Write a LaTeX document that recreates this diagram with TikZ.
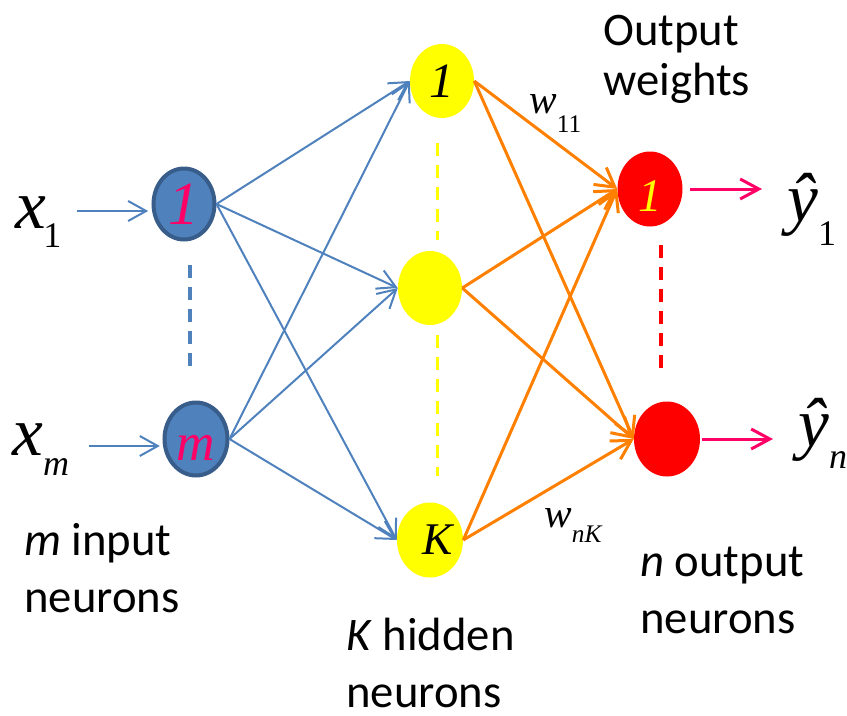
\documentclass[tikz,border=0pt]{standalone}
\usepackage{fontspec}
\setmainfont{Carlito}
\newfontfamily\tnr{Liberation Serif}
\usetikzlibrary{shapes.geometric,arrows.meta}

\definecolor{inblue}{HTML}{4F81BD}
\definecolor{inborder}{HTML}{385D8A}
\definecolor{wireorange}{HTML}{FF8000}
\definecolor{outpink}{HTML}{FF0066}
\definecolor{hidyellow}{HTML}{FFFF00}
\definecolor{outred}{HTML}{FF0000}

\begin{document}
\begin{tikzpicture}[x=0.75pt,y=-0.75pt,
  neuron/.style={ellipse, inner sep=0pt, minimum width=48pt, minimum height=55.5pt},
  inneuron/.style={neuron, fill=inblue, draw=inborder, line width=3pt,
    minimum width=45.75pt, minimum height=53.25pt, text=outpink},
  hidneuron/.style={neuron, fill=hidyellow},
  outneuron/.style={neuron, fill=outred},
  serifit/.style={font=\tnr\itshape\fontsize{#1}{#1}\selectfont},
  caption/.style={anchor=base west, inner sep=0pt, align=left,
    font=\fontsize{35}{#1}\selectfont},
  mathlabel/.style={anchor=base west, inner sep=0pt},
  bluewire/.style={draw=inblue, line width=1.5pt,
    -{Straight Barb[length=13.5pt,width=15pt]}},
  orangewire/.style={draw=wireorange, line width=2.25pt,
    -{Straight Barb[length=14pt,width=16pt]}},
  pinkwire/.style={draw=outpink, line width=2.25pt,
    -{Straight Barb[length=14pt,width=15pt]}},
  dots/.style={line width=#1, dash pattern=on 9.75pt off 6.75pt},
]
\useasboundingbox (0,0) rectangle (847,715);

% input layer
\node[inneuron, serifit=46] (in1) at (184,204) {1};
\node[inneuron, serifit=40, text height=31.5pt, text depth=0pt,
      minimum width=47.25pt, minimum height=54.75pt] (inm) at (196,439) {m};

% hidden layer
\node[hidneuron, serifit=37] (h1) at (442,81) {1};
\node[hidneuron] (h2) at (430,288) {};
\node[hidneuron, serifit=34, minimum width=49.5pt, minimum height=56.25pt] (hK) at (430,540) {\hspace*{12pt}K};

% output layer
\node[outneuron, serifit=35, text=hidyellow, text height=33pt, text depth=0pt,
      minimum width=48.75pt, minimum height=56.25pt] (o1) at (650,189) {1};
\node[outneuron, minimum width=49.5pt, minimum height=56.25pt] (on) at (667,439) {};

% ellipsis marks between neurons
\draw[inblue, dots=3pt] (190,265) -- (190,372);
\draw[hidyellow, dots=2.25pt] (437,143) -- (437,240);
\draw[hidyellow, dots=2.25pt] (437,335) -- (437,476);
\draw[outred, dots=3pt] (661,245) -- (661,373);

% input -> hidden
\foreach \s in {in1,inm}
  \foreach \t in {h1,h2,hK}
    \draw[bluewire] (\s.east) -- (\t.west);

% hidden -> output
\foreach \s in {h1,h2,hK}
  \foreach \t in {o1,on}
    \draw[orangewire] (\s.east) -- (\t.west);

% inputs
\node[mathlabel, serifit=52] (x1) at (15,228)
  {x\kern-2pt\raisebox{-14.25pt}{\fontsize{27}{27}\selectfont\upshape 1}};
\node[mathlabel, serifit=52] (xm) at (12,455)
  {x\raisebox{-15pt}{\fontsize{27}{27}\selectfont m}};
\coordinate (x1tail) at (77,211);
\coordinate (xmtail) at (89,446);
\draw[bluewire, shorten >=2.5pt] (x1tail) -- (x1tail -| in1.west);
\draw[bluewire, shorten >=2pt] (xmtail) -- (xmtail -| inm.west);

% outputs
\coordinate (y1head) at (762,189);
\coordinate (ynhead) at (773,439);
\draw[pinkwire, shorten <=5.5pt] (o1.east) -- (y1head);
\draw[pinkwire, shorten <=1.5pt] (on.east) -- (ynhead);
\node[mathlabel, serifit=52] (y1) at (787,221)
  {ŷ\raisebox{-18pt}{\fontsize{27}{27}\selectfont\upshape 1}};
\node[mathlabel, serifit=52] (yn) at (798,446)
  {ŷ\raisebox{-16.5pt}{\fontsize{27}{27}\selectfont n}};

% weight labels
\node[mathlabel, serifit=31] (w11) at (529,113)
  {w\raisebox{-14.25pt}{\fontsize{19}{19}\selectfont\upshape 11}};
\node[mathlabel, serifit=31] (wnK) at (544,527)
  {w\raisebox{-11.25pt}{\fontsize{19}{19}\selectfont nK}};

% layer captions (anchored at the baseline of the last line)
\node[caption=37.5] (outw) at (603,95) {Output\\weights};
\node[caption=42.75] (incap) at (24,612) {\textit{m} input\\neurons};
\node[caption=42.75] (hidcap) at (346,707) {\textit{K} hidden\\neurons};
\node[caption=42.75] (outcap) at (640,633) {\textit{n} output\\neurons};
\end{tikzpicture}
\end{document}
